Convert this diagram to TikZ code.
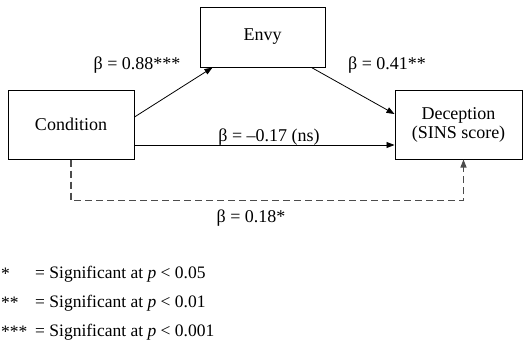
\documentclass[tikz,border=0pt]{standalone}
\usepackage{fontspec}
\setmainfont{Liberation Serif}
\usetikzlibrary{arrows.meta}

\begin{document}
\begin{tikzpicture}[
  x=1pt,y=-1pt,
  varbox/.style={draw, line width=1pt, align=center, inner sep=2pt, font=\fontsize{18}{20}\selectfont},
  coef/.style={font=\fontsize{18}{20}\selectfont, inner sep=1pt},
  legend/.style={font=\fontsize{17.5}{20}\selectfont, anchor=west, inner sep=0pt},
  path/.style={-{Triangle[length=8pt,width=6pt]}, line width=0.8pt},
  total/.style={-{Triangle[length=8pt,width=6pt]}, line width=1.2pt, draw=black!70, dash pattern=on 7pt off 4pt}
]
\useasboundingbox (0,0) rectangle (528,349);

\node[varbox, minimum width=126pt, minimum height=69pt] (cond) at (71,124.5) {Condition};
\node[varbox, minimum width=125pt, minimum height=60pt] (envy) at (262.5,37) {Envy};
\node[varbox, minimum width=127pt, minimum height=69pt] (dec) at (458.5,124.5)
  {Deception\\[-1pt](SINS score)};

\draw[path] ([yshift=7.5pt]cond.east) -- ([xshift=13pt]envy.south west);
\draw[path] ([xshift=-14pt]envy.south east) -- ([yshift=10.5pt]dec.west);
\draw[path] ([yshift=-20.5pt]cond.east) -- ([yshift=-20.5pt]dec.west);
\draw[total] (cond.south) -- ++(0,41) -| ([xshift=5pt]dec.south);

\node[coef] (a) at (137,65) {β = 0.88***};
\node[coef] (b) at (387,65) {β = 0.41**};
\node[coef] (c) at (269,137) {β = –0.17 (ns)};
\node[coef] (cp) at (251,218) {β = 0.18*};

% legend
\node[legend] (s1) at (1,274) {*};
\node[legend] (s2) at (1,303) {**};
\node[legend] (s3) at (1,332) {***};
\node[legend] (l1) at (35,274) {= Significant at \textit{p} < 0.05};
\node[legend] (l2) at (35,303) {= Significant at \textit{p} < 0.01};
\node[legend] (l3) at (35,332) {= Significant at \textit{p} < 0.001};
\end{tikzpicture}
\end{document}
